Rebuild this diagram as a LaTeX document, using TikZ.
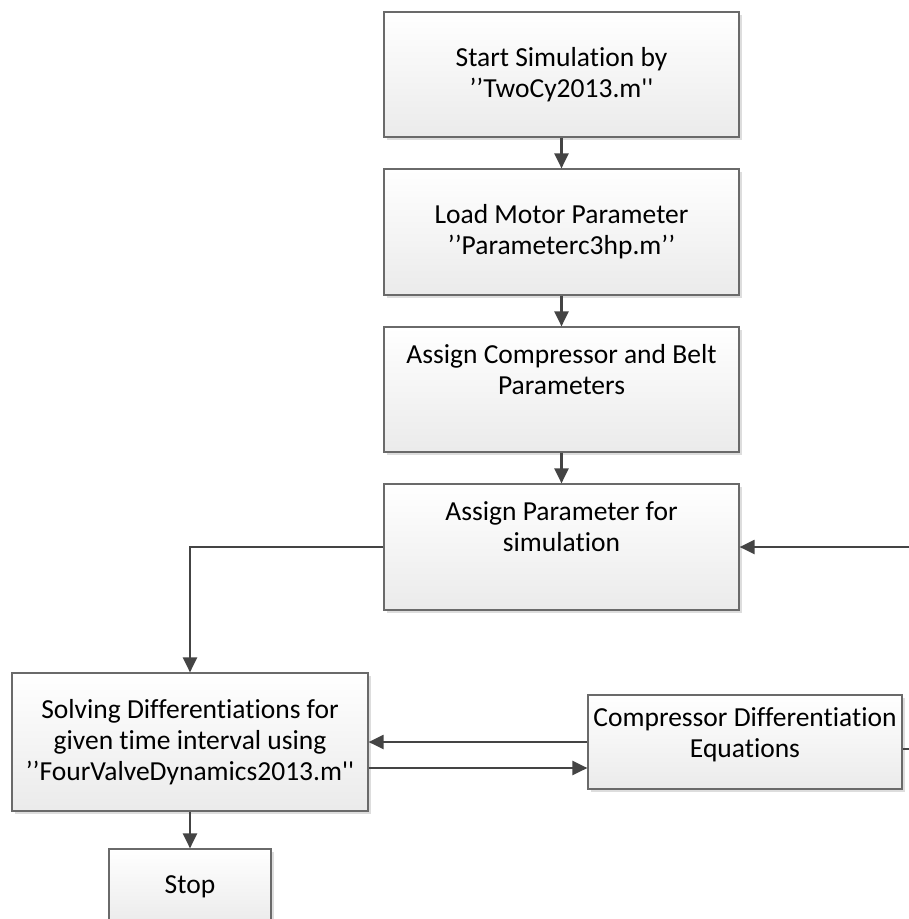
\documentclass[tikz,border=0pt]{standalone}
\usepackage{fontspec}
\setmainfont{Carlito}[Ligatures={NoCommon,TeXOff}]
\usetikzlibrary{arrows.meta,shadows}
\definecolor{edgec}{HTML}{6A6A6A}
\definecolor{linec}{HTML}{444444}
\definecolor{shadc}{HTML}{DDDDDD}
\tikzset{
  flowbox/.style={draw=edgec, line width=1.2pt, top color=white, bottom color=black!8,
    align=center, inner sep=0pt, font=\fontsize{27.5}{31}\selectfont,
    drop shadow={shadow xshift=3pt, shadow yshift=-3pt, fill=shadc, opacity=1}},
  conn/.style={draw=linec, line width=2.2pt},
  arr/.style={conn, -{Triangle[length=15pt,width=14pt]}}
}
\begin{document}
\begin{tikzpicture}[x=1pt,y=-1pt]
\useasboundingbox (0,0) rectangle (909,919);
\clip (0,0) rectangle (909,919);
\node[flowbox, minimum width=355pt, minimum height=125pt] (b1) at (561.5,74.5)
  {Start Simulation by\\’’TwoCy2013.m''};
\node[flowbox, minimum width=355pt, minimum height=126pt] (b2) at (561.5,232)
  {Load Motor Parameter\\’’Parameterc3hp.m’’};
\node[flowbox, minimum width=355pt, minimum height=125pt] (b3) at (561.5,389.5)
  {Assign Compressor and Belt\\Parameters\\\strut};
\node[flowbox, minimum width=355pt, minimum height=126pt] (b4) at (561.5,547)
  {Assign Parameter for\\simulation\\\strut};
\node[flowbox, minimum width=356pt, minimum height=138pt] (solve) at (190,742)
  {Solving Differentiations for\\given time interval using\\’’FourValveDynamics2013.m''};
\node[flowbox, minimum width=314pt, minimum height=94pt] (comp) at (745,742)
  {Compressor Differentiation\\Equations\\[-12pt]\mbox{}};
\node[flowbox, minimum width=162pt, minimum height=76pt] (stop) at (190,887)
  {Stop};
\coordinate (rin) at (909,547);
\coordinate (rout) at (909,749);
\coordinate (upper) at (0,742);
\coordinate (lower) at (0,768);
\draw[arr] (b1) -- (b2);
\draw[arr] (b2) -- (b3);
\draw[arr] (b3) -- (b4);
\draw[arr] (rin) -- (b4.east);
\draw[arr] (b4.west) -| (solve.north);
\draw[arr] (comp.west |- upper) -- (solve.east |- upper);
\draw[arr] (solve.east |- lower) -- (comp.west |- lower);
\draw[conn] (comp.east |- rout) -- (rout);
\draw[arr] (solve) -- (stop);
\end{tikzpicture}
\end{document}
